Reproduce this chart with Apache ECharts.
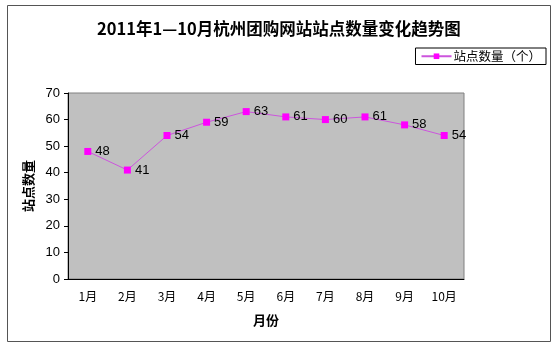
<!DOCTYPE html>
<html>
<head>
<meta charset="utf-8">
<script src="https://cdn.jsdelivr.net/npm/echarts@6/dist/echarts.min.js"></script>
<style>
  html, body { margin: 0; padding: 0; background: #fff; }
  #chart { width: 554px; height: 348px; }
</style>
</head>
<body>
<div id="chart"></div>
<script>
// Monthly count of group-buying sites in Hangzhou, Jan–Oct 2011
const months = ['1月', '2月', '3月', '4月', '5月', '6月', '7月', '8月', '9月', '10月'];
const siteCounts = [48, 41, 54, 59, 63, 61, 60, 61, 58, 54];
const seriesName = '站点数量（个）';

const cjk = '"Noto Sans CJK SC", sans-serif';
const latin = '"Liberation Sans", Arial, sans-serif';

const chart = echarts.init(document.getElementById('chart'), null, { renderer: 'canvas' });

chart.setOption({
  backgroundColor: '#ffffff',
  animation: false,
  title: {
    text: '2011年1—10月杭州团购网站站点数量变化趋势图',
    left: 92,
    top: 15,
    textStyle: { fontFamily: cjk, fontSize: 16.5, fontWeight: 'bold', color: '#000' }
  },
  legend: {
    right: 8,
    top: 48,
    orient: 'vertical',
    backgroundColor: '#ffffff',
    borderColor: '#000',
    borderWidth: 1,
    borderRadius: 0,
    padding: [2, 5, 2, 5],
    itemWidth: 30,
    itemHeight: 7,
    itemGap: 0,
    textStyle: { fontFamily: cjk, fontSize: 12.5, color: '#000', padding: [0, 0, 0, -3] },
    data: [seriesName]
  },
  grid: { left: 68, top: 93, right: 90, bottom: 69, show: true, backgroundColor: '#c0c0c0', borderColor: '#808080', borderWidth: 1 },
  xAxis: {
    type: 'category',
    data: months,
    boundaryGap: true,
    name: '月份',
    nameLocation: 'middle',
    nameGap: 35,
    nameTextStyle: { fontFamily: cjk, fontSize: 13, fontWeight: 'bold', color: '#000' },
    axisLine: { lineStyle: { color: '#000', width: 1 } },
    axisTick: { inside: true, length: 3, lineStyle: { color: '#000' } },
    axisLabel: { fontFamily: cjk, fontSize: 12, color: '#000', margin: 11 }
  },
  yAxis: {
    type: 'value',
    min: 0,
    max: 70,
    interval: 10,
    name: '站点数量',
    nameLocation: 'middle',
    nameRotate: 90,
    nameGap: 31,
    nameTextStyle: { fontFamily: cjk, fontSize: 13, fontWeight: 'bold', color: '#000' },
    splitLine: { show: false },
    axisLine: { show: true, lineStyle: { color: '#000', width: 1 } },
    axisTick: { show: true, length: 4, lineStyle: { color: '#000' } },
    axisLabel: { fontFamily: latin, fontSize: 13, color: '#000', margin: 8 }
  },
  series: [{
    name: seriesName,
    type: 'line',
    data: siteCounts,
    symbol: 'rect',
    symbolSize: 7,
    itemStyle: { color: '#ff00ff' },
    lineStyle: { color: '#cc55dd', width: 1 },
    label: {
      show: true,
      position: 'right',
      distance: 4,
      fontFamily: latin,
      fontSize: 13,
      color: '#000'
    }
  }],
  graphic: [{
    type: 'rect',
    shape: { x: 7.5, y: 5.5, width: 543, height: 336 },
    style: { fill: 'none', stroke: '#555555', lineWidth: 1 },
    silent: true,
    z: -1
  }]
});
</script>
</body>
</html>
